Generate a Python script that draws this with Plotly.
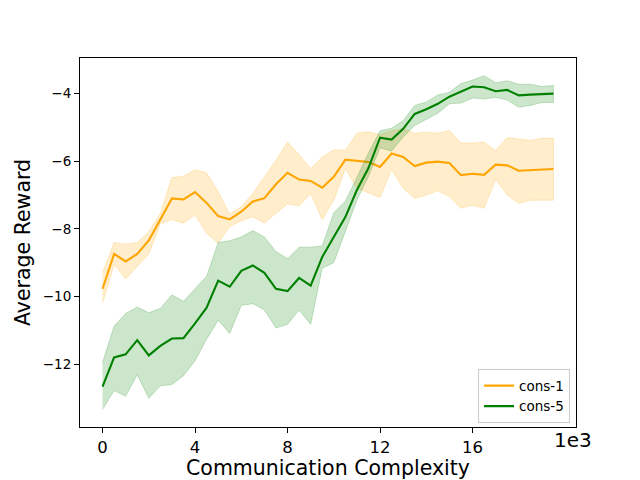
import plotly.graph_objects as go

x_vals = [0.0, 0.5, 1.0, 1.5, 2.0, 2.5, 3.0, 3.5, 4.0, 4.5,
          5.0, 5.5, 6.0, 6.5, 7.0, 7.5, 8.0, 8.5, 9.0, 9.5,
          10.0, 10.5, 11.0, 11.5, 12.0, 12.5, 13.0, 13.5, 14.0, 14.5,
          15.0, 15.5, 16.0, 16.5, 17.0, 17.5, 18.0, 18.5, 19.0, 19.5]

cons1_mean = [-9.77, -8.74, -8.96, -8.74, -8.34, -7.74, -7.10, -7.13, -6.91, -7.23,
              -7.62, -7.72, -7.49, -7.19, -7.09, -6.68, -6.34, -6.54, -6.58, -6.78,
              -6.46, -5.95, -5.99, -6.02, -6.17, -5.77, -5.87, -6.14, -6.04, -6.01,
              -6.05, -6.41, -6.37, -6.40, -6.10, -6.12, -6.28, -6.26, -6.24, -6.23]
cons1_upper = [-9.30, -8.40, -8.45, -8.40, -8.08, -7.54, -6.48, -6.44, -6.25, -6.34,
               -6.90, -7.56, -7.34, -6.95, -6.46, -5.97, -5.43, -5.80, -6.22, -5.87,
               -5.66, -5.68, -5.17, -5.13, -5.21, -5.09, -5.04, -5.17, -5.14, -5.17,
               -5.09, -5.46, -5.46, -5.43, -5.68, -5.30, -5.34, -5.38, -5.32, -5.32]
cons1_lower = [-10.19, -9.05, -9.48, -9.11, -8.74, -7.85, -7.72, -7.83, -7.59, -8.13,
               -8.42, -7.93, -7.76, -7.64, -7.83, -7.54, -7.26, -7.32, -6.95, -7.72,
               -7.15, -6.22, -6.80, -6.93, -7.07, -6.25, -6.80, -7.10, -7.00, -6.87,
               -7.05, -7.39, -7.30, -7.39, -6.54, -7.00, -7.25, -7.15, -7.15, -7.15]

cons5_mean = [-12.66, -11.80, -11.71, -11.29, -11.74, -11.46, -11.24, -11.23, -10.79, -10.33,
              -9.53, -9.71, -9.24, -9.08, -9.30, -9.77, -9.84, -9.45, -9.68, -8.83,
              -8.24, -7.65, -6.85, -6.20, -5.30, -5.36, -5.04, -4.60, -4.46, -4.30,
              -4.09, -3.94, -3.79, -3.81, -3.93, -3.89, -4.05, -4.03, -4.01, -4.00]
cons5_upper = [-11.95, -10.87, -10.50, -10.31, -10.48, -10.35, -9.95, -10.14, -9.77, -9.40,
               -8.40, -8.35, -8.24, -8.05, -8.24, -8.67, -8.88, -8.54, -8.54, -8.50,
               -7.52, -7.18, -6.48, -5.75, -5.10, -5.02, -4.80, -4.35, -4.25, -4.04,
               -3.96, -3.70, -3.60, -3.47, -3.68, -3.62, -3.72, -3.72, -3.79, -3.76]
cons5_lower = [-13.34, -12.78, -12.95, -12.31, -13.01, -12.64, -12.60, -12.34, -11.90, -11.26,
               -10.70, -11.09, -10.26, -10.21, -10.40, -10.93, -10.82, -10.40, -10.82, -9.16,
               -9.00, -8.05, -7.15, -6.45, -5.60, -5.70, -5.28, -4.94, -4.75, -4.58,
               -4.30, -4.28, -4.13, -4.16, -4.11, -4.19, -4.40, -4.35, -4.26, -4.26]

series = [
    ("cons-1", cons1_mean, cons1_upper, cons1_lower, "#FFA500", "rgba(255,165,0,0.2)"),
    ("cons-5", cons5_mean, cons5_upper, cons5_lower, "#008000", "rgba(0,128,0,0.2)"),
]

x_ticks = [0, 4, 8, 12, 16]
y_ticks = [-12, -10, -8, -6, -4]

fig = go.Figure()
for name, mean, upper, lower, col, fillcol in series:
    fig.add_trace(go.Scatter(
        x=x_vals + x_vals[::-1], y=upper + lower[::-1],
        fill="toself", fillcolor=fillcol,
        line=dict(color=fillcol, width=1),
        mode="lines", showlegend=False, hoverinfo="skip"))
    fig.add_trace(go.Scatter(
        x=x_vals, y=mean, mode="lines", name=name,
        line=dict(color=col, width=2.1)))

font_family = "DejaVu Sans"
fig.update_layout(
    width=632, height=472,
    margin=dict(l=72, r=64, t=50, b=53, autoexpand=False),
    plot_bgcolor="white", paper_bgcolor="white",
    font=dict(family=font_family, color="black"),
    xaxis=dict(
        range=[-0.975, 20.475], tickvals=x_ticks,
        ticktext=[str(v) for v in x_ticks],
        showgrid=False, zeroline=False,
        showline=True, linecolor="black", linewidth=1.1, mirror=True,
        ticks="outside", ticklen=5, tickwidth=1.1, tickcolor="black",
        tickfont=dict(size=16.5, family=font_family),
        ticklabelstandoff=0,
        title=dict(text="Communication Complexity", font=dict(size=20.5, family=font_family), standoff=16),
    ),
    yaxis=dict(
        range=[-13.857, -2.946], tickvals=y_ticks,
        showgrid=False, zeroline=False,
        showline=True, linecolor="black", linewidth=1.1, mirror=True,
        ticks="outside", ticklen=5, tickwidth=1.1, tickcolor="black",
        tickfont=dict(size=13.5, family=font_family),
        title=dict(text="Average Reward", font=dict(size=20.5, family=font_family), standoff=6),
    ),
    legend=dict(
        x=0.988, y=0.01, xanchor="right", yanchor="bottom",
        bgcolor="rgba(255,255,255,0.8)", bordercolor="#cccccc", borderwidth=1,
        font=dict(size=13.5, family=font_family),
        itemwidth=30, tracegroupgap=0,
    ),
    annotations=[dict(
        text="1e3", xref="paper", yref="paper", x=1.0, y=-0.035,
        xanchor="left", yanchor="middle", xshift=-24, showarrow=False,
        font=dict(size=20, family=font_family),
    )],
)

fig.write_html("out.html")
